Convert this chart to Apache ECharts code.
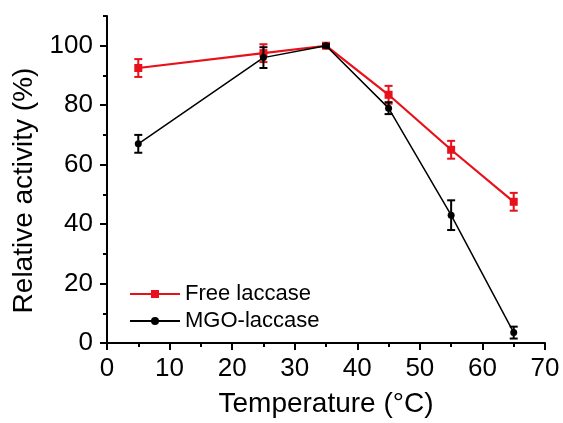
<!DOCTYPE html>
<html>
<head>
<meta charset="utf-8">
<script src="https://cdn.jsdelivr.net/npm/echarts@6/dist/echarts.min.js"></script>
<style>
html,body{margin:0;padding:0;background:#fff;}
#c{width:563px;height:423px;}
</style>
</head>
<body>
<div id="c"></div>
<script>
var temperatures = [5, 25, 35, 45, 55, 65];
var freeValues = [92.5, 97.5, 100, 83.5, 65, 47.5];
var freeErrors = [3, 3, 0.5, 3, 3, 3];
var mgoValues = [67, 96, 100, 79, 43, 3.5];
var mgoErrors = [3, 3.5, 0.5, 2, 5, 2];
var yMajorTicks = [0, 20, 40, 60, 80, 100];
var yMinorTicks = [10, 30, 50, 70, 90, 110];
var seriesNames = ['Free laccase', 'MGO-laccase'];

var FONT = '"Liberation Sans", Arial, sans-serif';

function pairs(xs, ys) { return xs.map(function (x, i) { return [x, ys[i]]; }); }
function errData(xs, ys, es) { return xs.map(function (x, i) { return [x, ys[i] - es[i], ys[i] + es[i]]; }); }

function errRender(color, lw) {
  return function (params, api) {
    var x = api.value(0);
    var lo = api.coord([x, api.value(1)]);
    var hi = api.coord([x, api.value(2)]);
    var hw = 4;
    var st = { stroke: color, lineWidth: lw, fill: null };
    return {
      type: 'group',
      children: [
        { type: 'line', shape: { x1: lo[0], y1: lo[1], x2: hi[0], y2: hi[1] }, style: st },
        { type: 'line', shape: { x1: lo[0] - hw, y1: lo[1], x2: lo[0] + hw, y2: lo[1] }, style: st },
        { type: 'line', shape: { x1: hi[0] - hw, y1: hi[1], x2: hi[0] + hw, y2: hi[1] }, style: st }
      ]
    };
  };
}

var chart = echarts.init(document.getElementById('c'), null, { renderer: 'canvas' });
chart.setOption({
  animation: false,
  backgroundColor: '#fff',
  textStyle: { fontFamily: FONT },
  grid: { left: 107, right: 18, top: 16, bottom: 79, containLabel: false },
  legend: {
    data: seriesNames,
    orient: 'vertical',
    left: 124,
    top: 278,
    itemWidth: 50,
    itemHeight: 10,
    itemGap: 5,
    textStyle: { fontFamily: FONT, fontSize: 22, color: '#000', lineHeight: 22 }
  },
  xAxis: {
    type: 'value',
    min: 0, max: 70, interval: 10,
    name: 'Temperature (°C)',
    nameLocation: 'middle',
    nameGap: 47,
    nameTextStyle: { fontFamily: FONT, fontSize: 28, color: '#000' },
    axisLine: { show: true, lineStyle: { color: '#000', width: 2 } },
    axisTick: { show: true, inside: false, length: 7, lineStyle: { color: '#000', width: 2 } },
    minorTick: { show: true, splitNumber: 2, length: 4, lineStyle: { color: '#000', width: 2 } },
    axisLabel: { fontFamily: FONT, fontSize: 26, color: '#000', margin: 13 },
    splitLine: { show: false },
    minorSplitLine: { show: false }
  },
  yAxis: [{
    type: 'value',
    min: 0, max: 110, interval: 20,
    name: 'Relative activity (%)',
    nameLocation: 'middle',
    nameGap: 63,
    nameTextStyle: { fontFamily: FONT, fontSize: 28, color: '#000', padding: [0, 22, 0, 0] },
    axisLine: { show: true, lineStyle: { color: '#000', width: 2 } },
    axisTick: { show: true, inside: false, length: 7, customValues: yMajorTicks, lineStyle: { color: '#000', width: 2 } },
    axisLabel: { fontFamily: FONT, fontSize: 26, color: '#000', margin: 14, customValues: yMajorTicks },
    splitLine: { show: false }
  }, {
    type: 'value',
    position: 'left',
    min: 0, max: 110, interval: 10,
    axisLine: { show: false },
    axisTick: { show: true, inside: false, length: 4, customValues: yMinorTicks, lineStyle: { color: '#000', width: 2 } },
    axisLabel: { show: false },
    splitLine: { show: false }
  }],
  series: [{
    name: seriesNames[0],
    type: 'line',
    data: pairs(temperatures, freeValues),
    symbol: 'rect',
    symbolSize: 8,
    itemStyle: { color: '#e8101a' },
    lineStyle: { color: '#e8101a', width: 2.2 },
    z: 3
  }, {
    name: 'freeErr',
    type: 'custom',
    data: errData(temperatures, freeValues, freeErrors),
    renderItem: errRender('#e8101a', 2),
    z: 3,
    silent: true
  }, {
    name: seriesNames[1],
    type: 'line',
    data: pairs(temperatures, mgoValues),
    symbol: 'circle',
    symbolSize: 7,
    itemStyle: { color: '#000' },
    lineStyle: { color: '#000', width: 1.5 },
    z: 4
  }, {
    name: 'mgoErr',
    type: 'custom',
    data: errData(temperatures, mgoValues, mgoErrors),
    renderItem: errRender('#000', 2),
    z: 4,
    silent: true
  }]
});
</script>
</body>
</html>
